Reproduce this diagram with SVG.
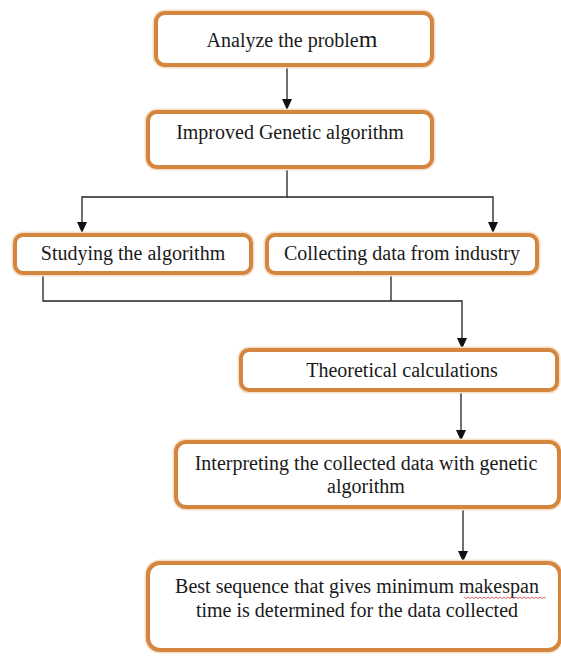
<svg xmlns="http://www.w3.org/2000/svg" width="561" height="656" viewBox="0 0 561 656">
<style>
.box{fill:#fff;stroke:#D4863F;stroke-width:4}
.halo{fill:none;stroke:#F6E0CB;stroke-width:7}
.lbl{font-family:"Liberation Serif","Times New Roman",serif;font-size:20px;fill:#1a1a1a;text-anchor:middle}
.con{fill:none;stroke:#222;stroke-width:1.3}
</style>
<defs>
<marker id="arr" markerUnits="userSpaceOnUse" markerWidth="12" markerHeight="12" refX="5" refY="11" orient="0" viewBox="0 0 10 12">
<path d="M0,0 L10,0 L5,11 Z" fill="#111"/>
</marker>
</defs>
<rect width="561" height="656" fill="#fff"/>
<g id="connectors">
<path class="con" d="M287,65 V110" marker-end="url(#arr)"/>
<path class="con" d="M287,167 V197 H82 V233" marker-end="url(#arr)"/>
<path class="con" d="M287,197 H493 V233" marker-end="url(#arr)"/>
<path class="con" d="M43,273 V301 H462 V349" marker-end="url(#arr)"/>
<path class="con" d="M391,273 V301"/>
<path class="con" d="M461,390 V441" marker-end="url(#arr)"/>
<path class="con" d="M463,507 V562" marker-end="url(#arr)"/>
</g>
<g id="n1">
<rect class="halo" x="156" y="13" width="276" height="52" rx="9"/>
<rect class="box" x="156" y="13" width="276" height="52" rx="9"/>
<text class="lbl" x="292" y="47">Analyze the proble<tspan font-size="24">m</tspan></text>
</g>
<g id="n2">
<rect class="halo" x="148" y="112" width="284" height="55" rx="9"/>
<rect class="box" x="148" y="112" width="284" height="55" rx="9"/>
<text class="lbl" x="290" y="139">Improved Genetic algorithm</text>
</g>
<g id="n3">
<rect class="halo" x="15" y="235" width="236" height="38" rx="8"/>
<rect class="box" x="15" y="235" width="236" height="38" rx="8"/>
<text class="lbl" x="133" y="260">Studying the algorithm</text>
</g>
<g id="n4">
<rect class="halo" x="267" y="235" width="270" height="38" rx="8"/>
<rect class="box" x="267" y="235" width="270" height="38" rx="8"/>
<text class="lbl" x="402" y="260">Collecting data from industry</text>
</g>
<g id="n5">
<rect class="halo" x="241" y="350" width="316" height="40" rx="8"/>
<rect class="box" x="241" y="350" width="316" height="40" rx="8"/>
<text class="lbl" x="402" y="377">Theoretical calculations</text>
</g>
<g id="n6">
<rect class="halo" x="176" y="442" width="383" height="65" rx="10"/>
<rect class="box" x="176" y="442" width="383" height="65" rx="10"/>
<text class="lbl" x="366" y="470">Interpreting the collected data with genetic</text>
<text class="lbl" x="366" y="493">algorithm</text>
</g>
<g id="n7">
<rect class="halo" x="148" y="563" width="412" height="87" rx="12"/>
<rect class="box" x="148" y="563" width="412" height="87" rx="12"/>
<text class="lbl" x="357" y="593">Best sequence that gives minimum makespan</text>
<text class="lbl" x="357" y="617">time is determined for the data collected</text>
<path d="M464,597 l2,1.5 l2,-1.5 l2,1.5 l2,-1.5 l2,1.5 l2,-1.5 l2,1.5 l2,-1.5 l2,1.5 l2,-1.5 l2,1.5 l2,-1.5 l2,1.5 l2,-1.5 l2,1.5 l2,-1.5 l2,1.5 l2,-1.5 l2,1.5 l2,-1.5 l2,1.5 l2,-1.5 l2,1.5 l2,-1.5 l2,1.5 l2,-1.5 l2,1.5 l2,-1.5 l2,1.5 l2,-1.5 l2,1.5 l2,-1.5 l2,1.5 l2,-1.5 l2,1.5 l2,-1.5 l2,1.5 l2,-1.5 l2,1.5 l2,-1.5 l2,1.5" fill="none" stroke="#D04040" stroke-width="0.8"/>
</g>
</svg>
